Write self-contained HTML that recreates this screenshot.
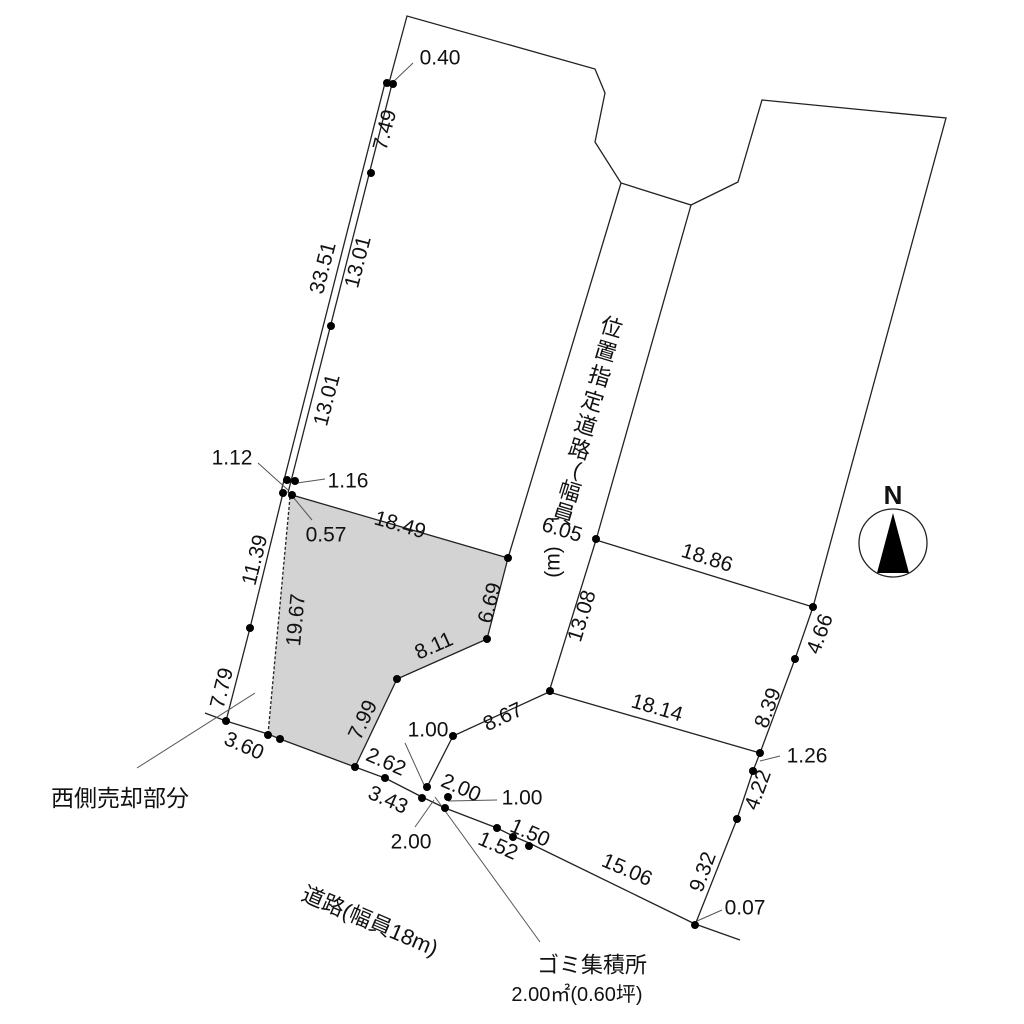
<!DOCTYPE html>
<html><head><meta charset="utf-8"><style>
html,body{margin:0;padding:0;background:#fff;width:1024px;height:1024px;overflow:hidden}
svg{position:absolute;left:0;top:0}
.t{font-family:"Liberation Sans","Noto Sans CJK JP",sans-serif;font-size:21px;fill:#111;text-anchor:middle;dominant-baseline:central}
.j{font-family:"Liberation Sans","Noto Sans CJK JP",sans-serif;fill:#111;text-anchor:middle;dominant-baseline:central}
.v{font-family:"Noto Sans CJK JP",sans-serif;font-size:22px;fill:#111;text-anchor:middle;dominant-baseline:central}
</style></head><body>
<svg width="1024" height="1024" viewBox="0 0 1024 1024">
<g fill="none" stroke="#222" stroke-width="1.3">
<polygon points="292,495 508,558 487,639 397,679 355,767 280,739 268,734 290,497" fill="#d3d3d3" stroke="none"/>
<polyline points="389,83 407,16 595,69 605,93 595,142 621,183 691,205 738,182 762,100 946,118 813,607 795,659 760,753 753,771 737,819 695,925"/>
<polyline points="621,183 508,558 487,639 397,679 355,767"/>
<polyline points="691,205 596,540 549,692 453,736 427,787"/>
<line x1="596" y1="540" x2="813" y2="607"/>
<line x1="549" y1="692" x2="760" y2="753"/>
<line x1="292" y1="495" x2="508" y2="558"/>
<line x1="385" y1="83" x2="281" y2="492"/>
<line x1="392" y1="84" x2="288" y2="493"/>
<polyline points="283,493 250,628 226,721"/>
<polyline points="205,713 226,721 268,734 280,739 355,767 385,778 422,797 445,808 497,828 513,836 529,843 695,924 740,940"/>
<line x1="290" y1="497" x2="268" y2="734" stroke-dasharray="3,2"/>
<circle cx="893" cy="543" r="34"/>
</g>
<g stroke="#555" stroke-width="1" fill="none">
<line x1="391" y1="84" x2="413" y2="63"/>
<line x1="258" y1="463" x2="288" y2="490"/>
<line x1="297" y1="483" x2="325" y2="479"/>
<line x1="293" y1="497" x2="312" y2="520"/>
<line x1="760" y1="761" x2="780" y2="756"/>
<line x1="697" y1="921" x2="722" y2="910"/>
<line x1="137" y1="768" x2="255" y2="693"/>
<line x1="405" y1="743" x2="425" y2="787"/>
<line x1="415" y1="827" x2="434" y2="800"/>
<line x1="448" y1="801" x2="497" y2="800"/>
<line x1="435" y1="797" x2="540" y2="942"/>
</g>
<g fill="#000">
<circle cx="387" cy="83" r="4"/><circle cx="393" cy="84" r="4"/>
<circle cx="371" cy="173" r="4"/><circle cx="331" cy="326" r="4"/>
<circle cx="287" cy="480" r="4"/><circle cx="295" cy="481" r="4"/>
<circle cx="283" cy="493" r="4"/><circle cx="292" cy="495" r="4"/>
<circle cx="508" cy="558" r="4"/><circle cx="487" cy="639" r="4"/>
<circle cx="397" cy="679" r="4"/><circle cx="355" cy="767" r="4"/>
<circle cx="250" cy="628" r="4"/><circle cx="226" cy="721" r="4"/>
<circle cx="268" cy="735" r="4"/><circle cx="280" cy="739" r="4"/>
<circle cx="385" cy="778" r="4"/><circle cx="427" cy="787" r="4"/>
<circle cx="422" cy="798" r="4"/><circle cx="448" cy="797" r="4"/>
<circle cx="445" cy="808" r="4"/><circle cx="497" cy="828" r="4"/>
<circle cx="513" cy="837" r="4"/><circle cx="529" cy="846" r="4"/>
<circle cx="453" cy="736" r="4"/><circle cx="550" cy="691" r="4"/>
<circle cx="596" cy="539" r="4"/><circle cx="813" cy="607" r="4"/>
<circle cx="795" cy="659" r="4"/><circle cx="760" cy="753" r="4"/>
<circle cx="753" cy="771" r="4"/><circle cx="737" cy="819" r="4"/>
<circle cx="695" cy="925" r="4"/>
<polygon points="893,513 877,573 909,573"/>
</g>
<text class="j" x="893" y="495" style="font-size:26px;font-weight:bold">N</text>
<text class="v" transform="translate(612,326) rotate(17)">位</text>
<text class="v" transform="translate(606,350) rotate(17)">置</text>
<text class="v" transform="translate(600,375) rotate(17)">指</text>
<text class="v" transform="translate(593,400) rotate(17)">定</text>
<text class="v" transform="translate(586,424) rotate(17)">道</text>
<text class="v" transform="translate(580,448) rotate(17)">路</text>
<text class="t" transform="translate(577,470) rotate(17)">(</text>
<text class="v" transform="translate(570,490) rotate(17)">幅</text>
<text class="v" transform="translate(564,512) rotate(17)">員</text>
<text class="t" transform="translate(562,530) rotate(17)">6.05</text>
<text class="t" transform="translate(553,562) rotate(-90)">(m)</text>
<g>
<text class="t" x="440" y="58">0.40</text>
<text class="t" transform="translate(385,130) rotate(-75.5)">7.49</text>
<text class="t" transform="translate(323,268) rotate(-75.5)">33.51</text>
<text class="t" transform="translate(358,262) rotate(-75.5)">13.01</text>
<text class="t" transform="translate(327,400) rotate(-75.5)">13.01</text>
<text class="t" x="232" y="458">1.12</text>
<text class="t" x="348" y="481">1.16</text>
<text class="t" x="326" y="535">0.57</text>
<text class="t" transform="translate(400,525) rotate(16.3)">18.49</text>
<text class="t" transform="translate(255,560) rotate(-76)">11.39</text>
<text class="t" transform="translate(296,620) rotate(-84.7)">19.67</text>
<text class="t" transform="translate(490,603) rotate(-75.5)">6.69</text>
<text class="t" transform="translate(434,646) rotate(-24)">8.11</text>
<text class="t" transform="translate(222,688) rotate(-76)">7.79</text>
<text class="t" transform="translate(363,720) rotate(-64.5)">7.99</text>
<text class="t" transform="translate(244,746) rotate(23.5)">3.60</text>
<text class="t" x="428" y="730">1.00</text>
<text class="t" transform="translate(386,762) rotate(23.5)">2.62</text>
<text class="t" transform="translate(461,788) rotate(23.5)">2.00</text>
<text class="t" transform="translate(388,800) rotate(23.5)">3.43</text>
<text class="t" x="522" y="798">1.00</text>
<text class="t" x="411" y="842">2.00</text>
<text class="t" transform="translate(530,833) rotate(23.5)">1.50</text>
<text class="t" transform="translate(498,846) rotate(23.5)">1.52</text>
<text class="t" transform="translate(627,870) rotate(23.5)">15.06</text>
<text class="t" transform="translate(503,717) rotate(-25)">8.67</text>
<text class="t" transform="translate(582,616) rotate(-72.8)">13.08</text>
<text class="t" transform="translate(657,708) rotate(16.4)">18.14</text>
<text class="t" transform="translate(707,558) rotate(17.4)">18.86</text>
<text class="t" transform="translate(820,634) rotate(-69.6)">4.66</text>
<text class="t" transform="translate(768,708) rotate(-69.6)">8.39</text>
<text class="t" x="807" y="756">1.26</text>
<text class="t" transform="translate(758,790) rotate(-69.6)">4.22</text>
<text class="t" transform="translate(703,872) rotate(-69.6)">9.32</text>
<text class="t" x="745" y="908">0.07</text>
</g>
<text class="j" x="120" y="798" style="font-size:23px">西側売却部分</text>
<text class="j" transform="translate(370,921) rotate(23)" style="font-size:22px">道路(幅員18m)</text>
<text class="j" x="592" y="965" style="font-size:22px">ゴミ集積所</text>
<text class="j" x="577" y="995" style="font-size:20px">2.00㎡(0.60坪)</text>
</svg>
</body></html>
